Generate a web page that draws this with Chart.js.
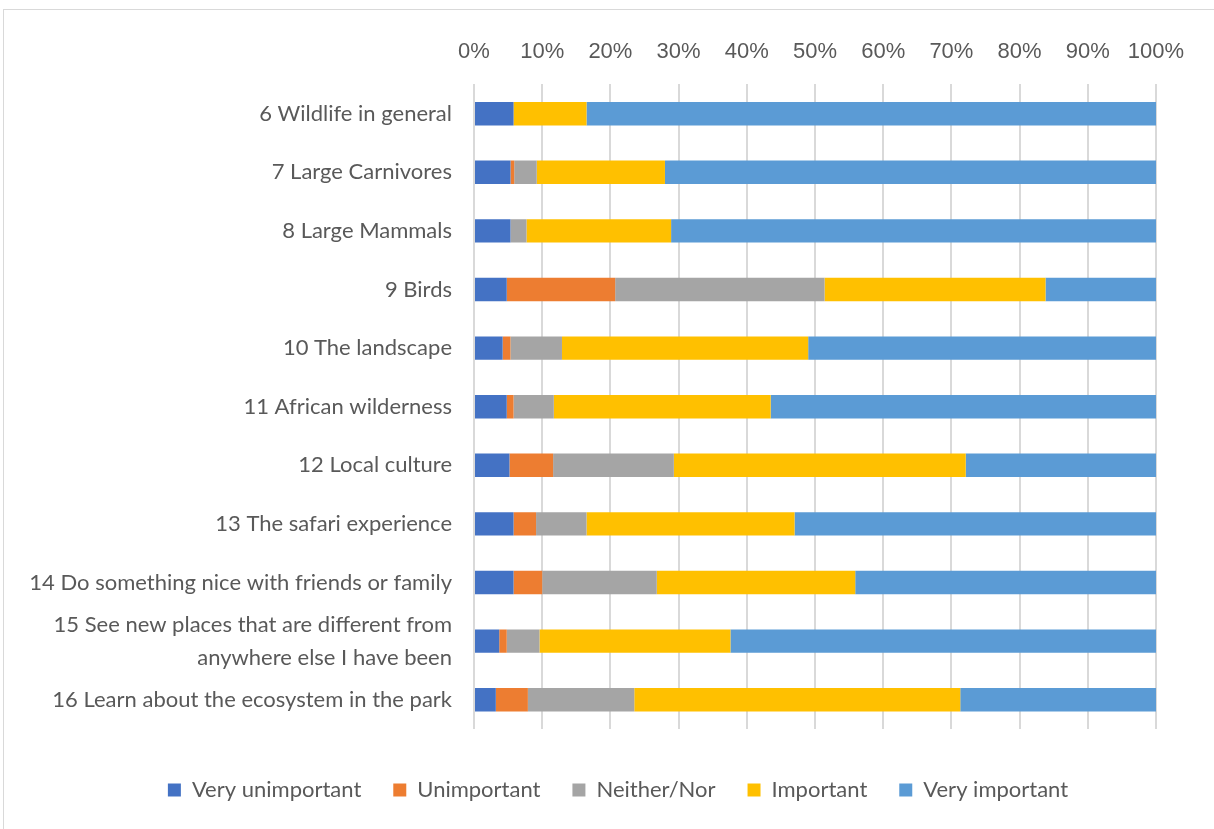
<!DOCTYPE html>
<html>
<head>
<meta charset="utf-8">
<script src="https://cdn.jsdelivr.net/npm/chart.js@4.4.1/dist/chart.umd.min.js"></script>
<style>
  html, body { margin: 0; padding: 0; background: #fff; }
  #frame { position: absolute; left: 3px; top: 9px; width: 1230px; height: 840px; border: 1px solid #d9d9d9; }
  #chart { position: absolute; left: 0; top: 0; }
</style>
</head>
<body>
<div id="frame"></div>
<canvas id="chart" width="1214" height="829"></canvas>
<script>
// categorias (eixo y)
var categories = [
    '6 Wildlife in general',
    '7 Large Carnivores',
    '8 Large Mammals',
    '9 Birds',
    '10 The landscape',
    '11 African wilderness',
    '12 Local culture',
    '13 The safari experience',
    '14 Do something nice with friends or family',
    ['15 See new places that are different from', 'anywhere else I have been'],
    '16 Learn about the ecosystem in the park'
];

// séries em %
var veryUnimportant = [5.8, 5.35, 5.35, 4.8, 4.2, 4.8, 5.2, 5.8, 5.8, 3.7, 3.2];
var unimportant     = [0, 0.55, 0, 15.9, 1.15, 1.0, 6.4, 3.3, 4.2, 1.1, 4.7];
var neitherNor      = [0, 3.3, 2.35, 30.7, 7.55, 5.9, 17.7, 7.4, 16.8, 4.8, 15.6];
var important       = [10.7, 18.8, 21.2, 32.4, 36.1, 31.8, 42.8, 30.5, 29.1, 28.0, 47.8];
var veryImportant   = [83.5, 72.0, 71.1, 16.2, 51.0, 56.5, 27.9, 53.0, 44.1, 62.4, 28.7];

var seriesNames = ['Very unimportant', 'Unimportant', 'Neither/Nor', 'Important', 'Very important'];
var tickValues = [0, 10, 20, 30, 40, 50, 60, 70, 80, 90, 100];

var colors = ['#4472C4', '#ED7D31', '#A5A5A5', '#FFC000', '#5B9BD5'];
var allSeries = [veryUnimportant, unimportant, neitherNor, important, veryImportant];

var datasets = allSeries.map(function(values, i) {
    return {
        label: seriesNames[i],
        data: values,
        backgroundColor: colors[i],
        borderWidth: 0,
        barPercentage: 0.4,
        categoryPercentage: 1
    };
});

var textColor = '#595959';

// desloca a legenda um pouco para a direita, como no original
var shiftLegend = {
    id: 'shiftLegend',
    afterLayout: function(chart) {
        chart.legend.left += 40;
        chart.legend.right += 40;
    }
};

var ctx = document.getElementById('chart').getContext('2d');
new Chart(ctx, {
    type: 'bar',
    data: { labels: categories, datasets: datasets },
    plugins: [shiftLegend],
    options: {
        indexAxis: 'y',
        responsive: false,
        animation: false,
        layout: { padding: { top: 20, right: 58, bottom: 18, left: 0 } },
        scales: {
            x: {
                position: 'top',
                stacked: true,
                min: 0,
                max: 100,
                afterBuildTicks: function(axis) {
                    axis.ticks = tickValues.map(function(v) { return { value: v }; });
                },
                ticks: {
                    callback: function(v) { return v + '%'; },
                    color: textColor,
                    font: { family: 'Liberation Sans', size: 22 },
                    padding: 19,
                    maxRotation: 0
                },
                grid: { color: '#d9d9d9', lineWidth: 2, drawTicks: false },
                border: { display: false }
            },
            // eixo vazio só para dar espaço entre as barras e a legenda
            gap: {
                axis: 'x',
                position: 'bottom',
                display: true,
                afterFit: function(axis) { axis.height = 18; },
                ticks: { display: false },
                grid: { display: false },
                border: { display: false }
            },
            y: {
                stacked: true,
                afterFit: function(axis) { axis.width = 474; },
                ticks: {
                    autoSkip: false,
                    color: textColor,
                    font: { family: 'Lato', size: 22, lineHeight: 1.5 },
                    padding: 14
                },
                grid: { display: false },
                border: { display: false }
            }
        },
        plugins: {
            legend: {
                position: 'bottom',
                labels: {
                    boxWidth: 13,
                    boxHeight: 13,
                    color: textColor,
                    font: { family: 'Lato', size: 22 },
                    padding: 32
                }
            },
            tooltip: { enabled: false }
        }
    }
});
</script>
</body>
</html>
